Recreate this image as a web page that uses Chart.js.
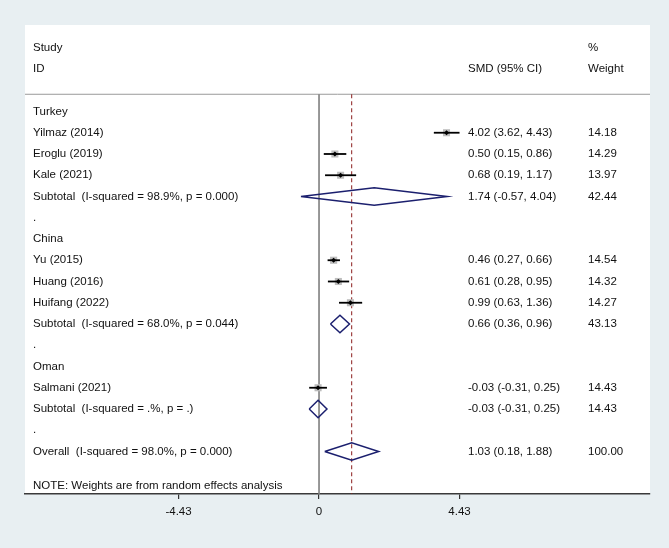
<!DOCTYPE html>
<html><head><meta charset="utf-8">
<script src="https://cdn.jsdelivr.net/npm/chart.js@4/dist/chart.umd.min.js"></script>
<style>html,body{margin:0;padding:0;background:#e8eff2;}canvas{display:block;}</style>
</head><body>
<canvas id="c" width="669" height="548"></canvas>
<script>
// ---- data ----
const groups = ['Turkey', 'China', 'Oman'];
const studies = ['Yilmaz (2014)', 'Eroglu (2019)', 'Kale (2021)', 'Yu (2015)', 'Huang (2016)', 'Huifang (2022)', 'Salmani (2021)'];
const studyGroup = [0, 0, 0, 1, 1, 1, 2];
const smd = [4.02, 0.50, 0.68, 0.46, 0.61, 0.99, -0.03];
const ciLow = [3.62, 0.15, 0.19, 0.27, 0.28, 0.63, -0.31];
const ciHigh = [4.43, 0.86, 1.17, 0.66, 0.95, 1.36, 0.25];
const weights = [14.18, 14.29, 13.97, 14.54, 14.32, 14.27, 14.43];
const subtotalLabels = ['Subtotal  (I-squared = 98.9%, p = 0.000)', 'Subtotal  (I-squared = 68.0%, p = 0.044)', 'Subtotal  (I-squared = .%, p = .)'];
const subtotalSmd = [1.74, 0.66, -0.03];
const subtotalLow = [-0.57, 0.36, -0.31];
const subtotalHigh = [4.04, 0.96, 0.25];
const subtotalWeights = [42.44, 43.13, 14.43];
const overallLabel = 'Overall  (I-squared = 98.0%, p = 0.000)';
const overallSmd = [1.03];
const overallLow = [0.18];
const overallHigh = [1.88];
const overallWeight = [100.00];
const xTicks = [-4.43, 0, 4.43];
const xTickLabels = ['-4.43', '0', '4.43'];
const headerLeft = ['Study', 'ID'];
const headerMid = ['', 'SMD (95% CI)'];
const headerRight = ['%', 'Weight'];
const noteText = 'NOTE: Weights are from random effects analysis';

// ---- layout constants ----
const X_MIN = -9.27, X_MAX = 10.435;
const Y_MIN = -4.07, Y_MAX = 18.0;
const HEADER_LINE_Y = -0.81;
const DIAMOND_H = 0.41;
const COL_LABEL = 33, COL_CI = 468, COL_W = 588;
const FONT = '11.5px "Liberation Sans", Arial, sans-serif';
const BG = '#e8eff2';
const NAVY = '#1b1f6e';

const fmt = v => v.toFixed(2);
const ciText = (e, l, h) => `${fmt(e)} (${fmt(l)}, ${fmt(h)})`;

// ---- build rows ----
const textRows = [];
const studyRow = [];
const subtotalRow = [];
let r = 0;
groups.forEach((g, gi) => {
  textRows.push({y: r, label: g}); r++;
  studies.forEach((s, si) => {
    if (studyGroup[si] !== gi) return;
    studyRow[si] = r;
    textRows.push({y: r, label: s, ci: ciText(smd[si], ciLow[si], ciHigh[si]), w: fmt(weights[si])});
    r++;
  });
  subtotalRow[gi] = r;
  textRows.push({y: r, label: subtotalLabels[gi], ci: ciText(subtotalSmd[gi], subtotalLow[gi], subtotalHigh[gi]), w: fmt(subtotalWeights[gi])});
  r++;
  textRows.push({y: r, label: '.'}); r++;
});
const overallRow = r;
textRows.push({y: r, label: overallLabel, ci: ciText(overallSmd[0], overallLow[0], overallHigh[0]), w: fmt(overallWeight[0])});

// ---- datasets ----
const lineDs = (pts, color, width, order, dash) => ({
  type: 'scatter', data: pts, showLine: true, pointRadius: 0, borderColor: color,
  borderWidth: width, borderDash: dash || [], fill: false, tension: 0, order: order
});
const datasets = [];
datasets.push(lineDs([{x: X_MIN, y: HEADER_LINE_Y}, {x: X_MAX, y: HEADER_LINE_Y}], '#9a9a9a', 1, 10));
datasets.push(lineDs([{x: 0, y: HEADER_LINE_Y}, {x: 0, y: Y_MAX}], '#7f7f7f', 1.6, 9));
datasets.push(lineDs([{x: overallSmd[0], y: HEADER_LINE_Y}, {x: overallSmd[0], y: Y_MAX}], '#8a1c1c', 1, 8, [4, 3]));
datasets.push({
  type: 'scatter', data: studies.map((s, i) => ({x: smd[i], y: studyRow[i]})), order: 5,
  pointStyle: 'rect', pointRadius: weights.map(w => 5 * Math.sqrt(w / 14.3)),
  backgroundColor: '#bdbdbd', borderWidth: 0, showLine: false
});
studies.forEach((s, i) => {
  datasets.push(lineDs([{x: ciLow[i], y: studyRow[i]}, {x: ciHigh[i], y: studyRow[i]}], '#000000', 1.8, 3));
});
datasets.push({
  type: 'scatter', data: studies.map((s, i) => ({x: smd[i], y: studyRow[i]})), order: 0,
  pointStyle: 'rectRot', pointRadius: 2.6, backgroundColor: '#000', borderWidth: 0, showLine: false
});
const diamond = (e, l, h, y) => [
  {x: l, y: y}, {x: e, y: y - DIAMOND_H}, {x: h, y: y}, {x: e, y: y + DIAMOND_H}, {x: l, y: y}
];
groups.forEach((g, gi) => {
  datasets.push(lineDs(diamond(subtotalSmd[gi], subtotalLow[gi], subtotalHigh[gi], subtotalRow[gi]), NAVY, 1.5, 2));
});
datasets.push(lineDs(diamond(overallSmd[0], overallLow[0], overallHigh[0], overallRow), NAVY, 1.5, 2));

// ---- plugins ----
const bgPlugin = {
  id: 'bg',
  beforeDraw(chart) {
    const {ctx, chartArea: a} = chart;
    ctx.save();
    ctx.fillStyle = BG;
    ctx.fillRect(0, 0, chart.width, chart.height);
    ctx.fillStyle = '#ffffff';
    ctx.fillRect(a.left, a.top, a.right - a.left, a.bottom - a.top);
    ctx.restore();
  }
};
const textPlugin = {
  id: 'texts',
  afterDatasetsDraw(chart) {
    const {ctx} = chart;
    const ys = chart.scales.y;
    ctx.save();
    ctx.font = FONT;
    ctx.fillStyle = '#111111';
    ctx.textBaseline = 'middle';
    ctx.textAlign = 'left';
    const hy = [-3.0, -2.0];
    hy.forEach((v, i) => {
      const py = ys.getPixelForValue(v);
      ctx.fillText(headerLeft[i], COL_LABEL, py);
      if (headerMid[i]) ctx.fillText(headerMid[i], COL_CI, py);
      ctx.fillText(headerRight[i], COL_W, py);
    });
    textRows.forEach(t => {
      const py = ys.getPixelForValue(t.y);
      ctx.fillText(t.label, COL_LABEL, py);
      if (t.ci) ctx.fillText(t.ci, COL_CI, py);
      if (t.w) ctx.fillText(t.w, COL_W, py);
    });
    ctx.fillText(noteText, COL_LABEL, ys.getPixelForValue(17.6));
    ctx.restore();
  }
};

new Chart(document.getElementById('c'), {
  type: 'scatter',
  data: {datasets},
  options: {
    responsive: false, animation: false, devicePixelRatio: 1,
    layout: {padding: {left: 25, right: 19, top: 25, bottom: 24}},
    plugins: {legend: {display: false}, tooltip: {enabled: false}},
    elements: {line: {tension: 0}},
    scales: {
      x: {
        type: 'linear', position: 'bottom', min: X_MIN, max: X_MAX,
        afterBuildTicks: s => { s.ticks = xTicks.map(v => ({value: v})); },
        afterFit: s => { s.height = 30; },
        grid: {drawOnChartArea: false, drawTicks: true, tickLength: 5, color: '#333333', lineWidth: 1.2},
        border: {display: true, color: '#3a3a3a', width: 1.5},
        ticks: {
          font: {family: '"Liberation Sans", Arial, sans-serif', size: 11.5}, color: '#111111', padding: 6,
          maxRotation: 0, autoSkip: false,
          callback: (v, i) => xTickLabels[i]
        }
      },
      y: {type: 'linear', reverse: true, min: Y_MIN, max: Y_MAX, display: false}
    }
  },
  plugins: [bgPlugin, textPlugin]
});
</script>
</body></html>
